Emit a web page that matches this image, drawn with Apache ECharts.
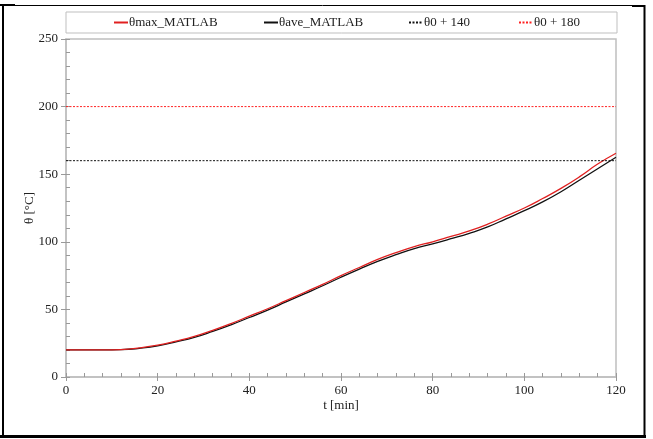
<!DOCTYPE html>
<html>
<head>
<meta charset="utf-8">
<script src="https://cdn.jsdelivr.net/npm/echarts@6/dist/echarts.min.js"></script>
<style>html,body{margin:0;padding:0;background:#fff}#c{width:653px;height:439px}</style>
</head>
<body>
<div id="c"></div>
<script>
var tMin = [0,4,8,12,16,20,24,28,32,36,40,44,48,52,56,60,64,68,72,76,80,84,88,92,96,100,104,108,112,116,120];
var thetaMax = [20,20,20,20.3,21.5,23.5,26.5,30,34.5,39.5,45,50.5,56.5,62.5,68.5,75,81,87,92,96.5,100,104,108,113,119,125,132,139.5,148,157.5,165.5];
var thetaAve = [20,20,20,20.2,21.2,23,26,29.3,33.7,38.6,44,49.5,55.5,61.5,67.5,73.8,79.8,85.5,90.5,95,98.5,102.3,106.3,111,117,123,129.5,137,145.5,154,162.5];
var refT = [0,120];
var ref140 = [160,160];
var ref180 = [200,200];
var names = ['θmax_MATLAB','θave_MATLAB','θ0 + 140','θ0 + 180'];

function pairs(xs, ys){ return xs.map(function(x,i){ return [x, ys[i]]; }); }

var font = 'Liberation Serif';
var axisGray = '#bfbfbf';
var chart = echarts.init(document.getElementById('c'));
function leg(name, left){
  return {data:[name], left:left, top:16, padding:0, itemWidth:14, itemHeight:8, itemGap:0,
    itemStyle:{opacity:0, borderWidth:0},
    textStyle:{fontFamily:font, fontSize:13, color:'#222', padding:[0,0,0,-4]}};
}
chart.setOption({
  animation:false,
  backgroundColor:'#fff',
  graphic:[
    {type:'rect', shape:{x:66, y:12, width:551, height:21}, style:{fill:'none', stroke:axisGray, lineWidth:1}},
    {type:'line', shape:{x1:3, y1:5, x2:3, y2:438}, style:{stroke:'#000', lineWidth:2}},
    {type:'line', shape:{x1:0, y1:5.5, x2:645, y2:5.5}, style:{stroke:'#000', lineWidth:1}},
    {type:'line', shape:{x1:0, y1:5, x2:15, y2:5}, style:{stroke:'#000', lineWidth:2}},
    {type:'line', shape:{x1:632, y1:6, x2:645, y2:6}, style:{stroke:'#000', lineWidth:2}},
    {type:'line', shape:{x1:644.5, y1:5, x2:644.5, y2:438}, style:{stroke:'#000', lineWidth:2}},
    {type:'line', shape:{x1:0, y1:436.5, x2:646, y2:436.5}, style:{stroke:'#000', lineWidth:3}}
  ],
  legend:[leg(names[0],113), leg(names[1],263), leg(names[2],408), leg(names[3],518)],
  grid:{left:66, right:37, top:39, bottom:62, show:true, borderColor:axisGray, borderWidth:1.5, backgroundColor:'transparent'},
  xAxis:[{
    type:'value', min:0, max:120, interval:20, position:'bottom',
    name:'t [min]', nameLocation:'middle', nameGap:22, nameMoveOverlap:false,
    nameTextStyle:{fontFamily:font, fontSize:13, color:'#222'},
    axisLine:{show:true, onZero:false, lineStyle:{color:axisGray, width:1.5}},
    axisTick:{show:true, inside:false, length:4, lineStyle:{color:'#999'}},
    axisLabel:{fontFamily:font, fontSize:13, color:'#222', margin:7},
    splitLine:{show:false}
  },{
    type:'value', min:0, max:120, interval:4, position:'bottom',
    axisLine:{show:false, onZero:false},
    axisTick:{show:true, inside:true, length:4, lineStyle:{color:'#999'}},
    axisLabel:{show:false}, splitLine:{show:false}
  }],
  yAxis:[{
    type:'value', min:0, max:250, interval:50, position:'left',
    name:'θ [°C]', nameLocation:'middle', nameGap:30, nameRotate:90, nameMoveOverlap:false,
    nameTextStyle:{fontFamily:font, fontSize:13, color:'#222'},
    axisLine:{show:true, onZero:false, lineStyle:{color:axisGray, width:1.5}},
    axisTick:{show:true, inside:false, length:5, lineStyle:{color:'#999'}},
    axisLabel:{fontFamily:font, fontSize:13, color:'#222', margin:8},
    splitLine:{show:false}
  },{
    type:'value', min:0, max:250, interval:10, position:'left',
    axisLine:{show:false, onZero:false},
    axisTick:{show:true, inside:true, length:4, lineStyle:{color:'#999'}},
    axisLabel:{show:false}, splitLine:{show:false}
  }],
  series:[
    {name:names[0], type:'line', smooth:true, symbol:'none', data:pairs(tMin, thetaMax),
      lineStyle:{color:'#e02020', width:1.3}, itemStyle:{color:'#e02020'}, z:3},
    {name:names[1], type:'line', smooth:true, symbol:'none', data:pairs(tMin, thetaAve),
      lineStyle:{color:'#111', width:1.3}, itemStyle:{color:'#111'}, z:2},
    {name:names[2], type:'line', symbol:'none', data:pairs(refT, ref140),
      lineStyle:{color:'#111', width:1, type:[2,1.5]}, itemStyle:{color:'#111'}},
    {name:names[3], type:'line', symbol:'none', data:pairs(refT, ref180),
      lineStyle:{color:'#ff2020', width:1, type:[2,1.5]}, itemStyle:{color:'#ff2020'}}
  ]
});
</script>
</body>
</html>
